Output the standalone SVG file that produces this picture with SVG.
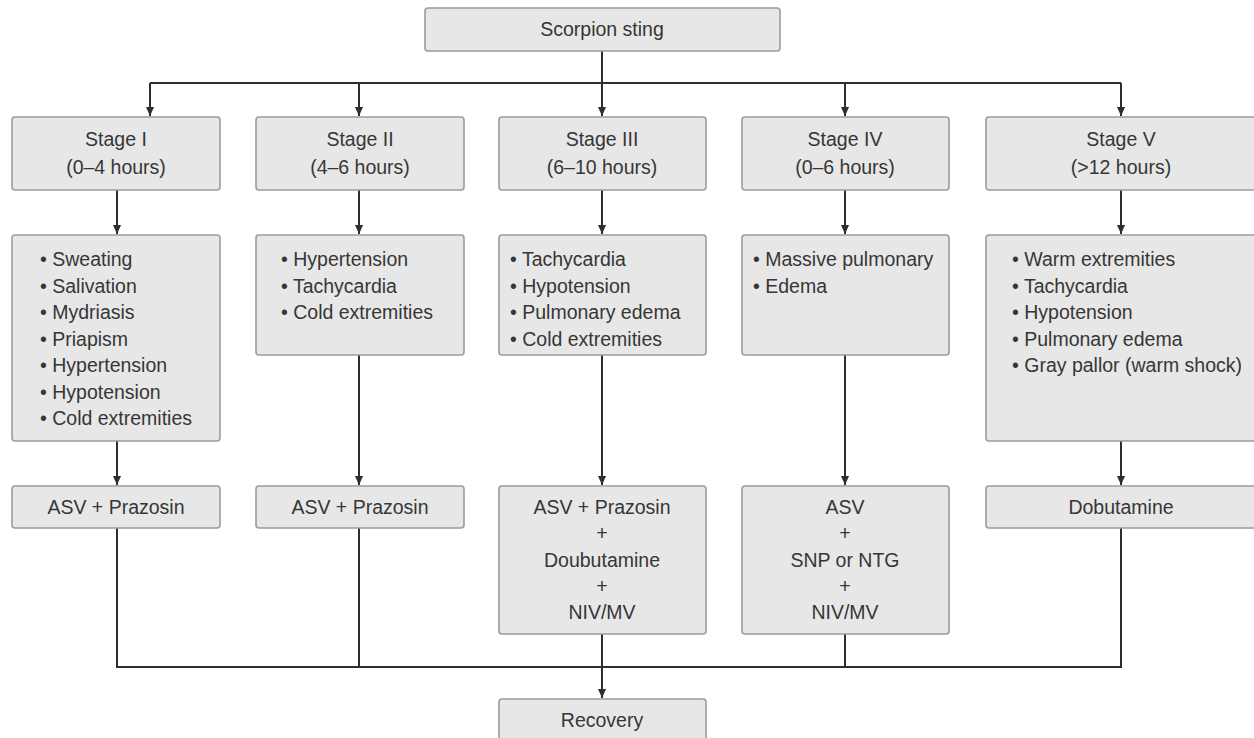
<svg xmlns="http://www.w3.org/2000/svg" width="1254" height="738" viewBox="0 0 1254 738">
<defs>
<style>
.box{fill:#e7e7e7;stroke:#9c9c9c;stroke-width:1.6}
.t{font-family:"Liberation Sans",Arial,sans-serif;font-size:19.5px;fill:#363636}
.c{text-anchor:middle}
.ln{stroke:#2e2e2e;stroke-width:2;fill:none}
</style>
<marker id="ah" viewBox="0 0 10 10" refX="10" refY="5" markerWidth="10" markerHeight="9" markerUnits="userSpaceOnUse" orient="auto">
<path d="M0,0.5 L10,5 L0,9.5 Z" fill="#2e2e2e"/>
</marker>
</defs>
<rect width="1254" height="738" fill="#ffffff"/>
<g id="connectors">
<path class="ln" d="M602,51 V83"/>
<path class="ln" d="M150,83 H1121"/>
<path class="ln" d="M150,83 V116" marker-end="url(#ah)"/>
<path class="ln" d="M359,83 V116" marker-end="url(#ah)"/>
<path class="ln" d="M602,83 V116" marker-end="url(#ah)"/>
<path class="ln" d="M845,83 V116" marker-end="url(#ah)"/>
<path class="ln" d="M1121,83 V116" marker-end="url(#ah)"/>
<path class="ln" d="M117,190 V234" marker-end="url(#ah)"/>
<path class="ln" d="M359,190 V234" marker-end="url(#ah)"/>
<path class="ln" d="M602,190 V234" marker-end="url(#ah)"/>
<path class="ln" d="M845,190 V234" marker-end="url(#ah)"/>
<path class="ln" d="M1121,190 V234" marker-end="url(#ah)"/>
<path class="ln" d="M117,441 V485" marker-end="url(#ah)"/>
<path class="ln" d="M359,355 V485" marker-end="url(#ah)"/>
<path class="ln" d="M602,355 V485" marker-end="url(#ah)"/>
<path class="ln" d="M845,355 V485" marker-end="url(#ah)"/>
<path class="ln" d="M1121,441 V485" marker-end="url(#ah)"/>
<path class="ln" d="M117,528 V667 H1121 V528"/>
<path class="ln" d="M359,528 V667"/>
<path class="ln" d="M845,634 V667"/>
<path class="ln" d="M602,634 V698" marker-end="url(#ah)"/>
</g>
<g id="scorpion"><rect class="box" x="425" y="8" width="355" height="43" rx="3"/><text class="t c" x="602" y="36">Scorpion sting</text></g>
<g id="stage1"><rect class="box" x="12" y="117" width="208" height="73" rx="3"/><text class="t c" x="116" y="146">Stage I</text><text class="t c" x="116" y="174">(0–4 hours)</text></g>
<g id="stage2"><rect class="box" x="256" y="117" width="208" height="73" rx="3"/><text class="t c" x="360" y="146">Stage II</text><text class="t c" x="360" y="174">(4–6 hours)</text></g>
<g id="stage3"><rect class="box" x="499" y="117" width="207" height="73" rx="3"/><text class="t c" x="602" y="146">Stage III</text><text class="t c" x="602" y="174">(6–10 hours)</text></g>
<g id="stage4"><rect class="box" x="742" y="117" width="207" height="73" rx="3"/><text class="t c" x="845" y="146">Stage IV</text><text class="t c" x="845" y="174">(0–6 hours)</text></g>
<g id="stage5"><rect class="box" x="986" y="117" width="274" height="73" rx="3"/><text class="t c" x="1121" y="146">Stage V</text><text class="t c" x="1121" y="174">(&gt;12 hours)</text></g>
<g id="sym1"><rect class="box" x="12" y="235" width="208" height="206" rx="3"/>
<text class="t" x="40" y="266">• Sweating</text><text class="t" x="40" y="292.5">• Salivation</text><text class="t" x="40" y="319">• Mydriasis</text><text class="t" x="40" y="345.5">• Priapism</text><text class="t" x="40" y="372">• Hypertension</text><text class="t" x="40" y="398.5">• Hypotension</text><text class="t" x="40" y="425">• Cold extremities</text></g>
<g id="sym2"><rect class="box" x="256" y="235" width="208" height="120" rx="3"/>
<text class="t" x="281" y="266">• Hypertension</text><text class="t" x="281" y="292.5">• Tachycardia</text><text class="t" x="281" y="319">• Cold extremities</text></g>
<g id="sym3"><rect class="box" x="499" y="235" width="207" height="120" rx="3"/>
<text class="t" x="510" y="266">• Tachycardia</text><text class="t" x="510" y="292.5">• Hypotension</text><text class="t" x="510" y="319">• Pulmonary edema</text><text class="t" x="510" y="345.5">• Cold extremities</text></g>
<g id="sym4"><rect class="box" x="742" y="235" width="207" height="120" rx="3"/>
<text class="t" x="753" y="266">• Massive pulmonary</text><text class="t" x="753" y="292.5">• Edema</text></g>
<g id="sym5"><rect class="box" x="986" y="235" width="274" height="206" rx="3"/>
<text class="t" x="1012" y="266">• Warm extremities</text><text class="t" x="1012" y="292.5">• Tachycardia</text><text class="t" x="1012" y="319">• Hypotension</text><text class="t" x="1012" y="345.5">• Pulmonary edema</text><text class="t" x="1012" y="372">• Gray pallor (warm shock)</text></g>
<g id="tx1"><rect class="box" x="12" y="486" width="208" height="42" rx="3"/><text class="t c" x="116" y="514">ASV + Prazosin</text></g>
<g id="tx2"><rect class="box" x="256" y="486" width="208" height="42" rx="3"/><text class="t c" x="360" y="514">ASV + Prazosin</text></g>
<g id="tx3"><rect class="box" x="499" y="486" width="207" height="148" rx="3"/>
<text class="t c" x="602" y="514">ASV + Prazosin</text><text class="t c" x="602" y="540">+</text><text class="t c" x="602" y="567">Doubutamine</text><text class="t c" x="602" y="593">+</text><text class="t c" x="602" y="619">NIV/MV</text></g>
<g id="tx4"><rect class="box" x="742" y="486" width="207" height="148" rx="3"/>
<text class="t c" x="845" y="514">ASV</text><text class="t c" x="845" y="540">+</text><text class="t c" x="845" y="567">SNP or NTG</text><text class="t c" x="845" y="593">+</text><text class="t c" x="845" y="619">NIV/MV</text></g>
<g id="tx5"><rect class="box" x="986" y="486" width="274" height="42" rx="3"/><text class="t c" x="1121" y="514">Dobutamine</text></g>
<g id="recovery"><rect class="box" x="499" y="699" width="207" height="50" rx="3"/><text class="t c" x="602" y="727">Recovery</text></g>
</svg>
